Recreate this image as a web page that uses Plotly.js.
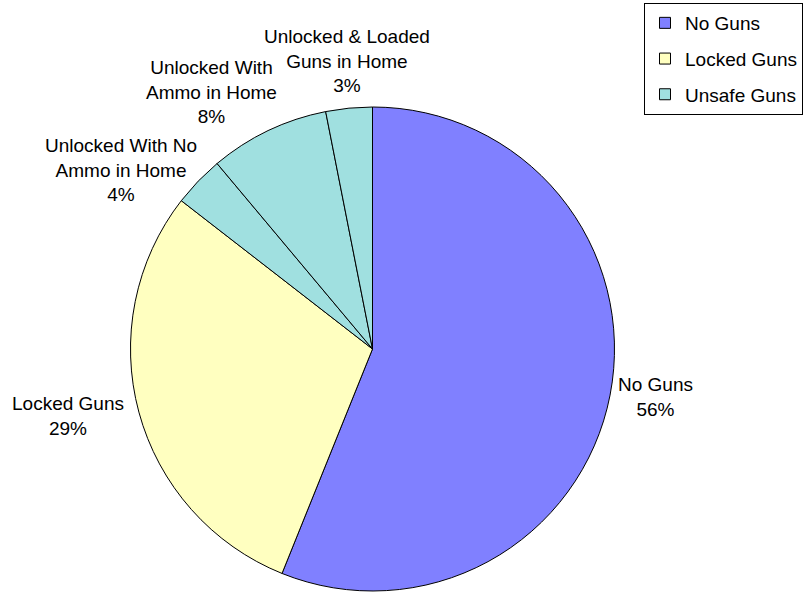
<!DOCTYPE html>
<html>
<head>
<meta charset="utf-8">
<script src="https://cdn.plot.ly/plotly-3.0.1.min.js"></script>
<style>html,body{margin:0;padding:0;background:#fff;}#chart{width:807px;height:592px;}</style>
</head>
<body>
<div id="chart"></div>
<script>
// Data
const sliceLabels = ["No Guns", "Locked Guns", "Unlocked With No Ammo in Home", "Unlocked With Ammo in Home", "Unlocked & Loaded Guns in Home"];
const sliceValues = [56.1, 29.4, 3.4, 8.0, 3.1];
const sliceLabelLines = ["No Guns", "Locked Guns", "Unlocked With No<br>Ammo in Home", "Unlocked With<br>Ammo in Home", "Unlocked & Loaded<br>Guns in Home"];
const pctLabels = ["56%", "29%", "4%", "8%", "3%"];
const sliceGroup = ["No Guns", "Locked Guns", "Unsafe Guns", "Unsafe Guns", "Unsafe Guns"];
const legendNames = ["No Guns", "Locked Guns", "Unsafe Guns"];
const legendColors = ["#8080FF", "#FFFFC0", "#A0E0E0"];

const W = 807, H = 592;
const px = x => x / W;
const py = y => 1 - y / H;
const colorOf = g => legendColors[legendNames.indexOf(g)];

// label positions (pixels)
const labelPos = [[655, 397], [68, 416], [121, 170], [211, 92], [347, 61]];

const FONT = "Liberation Sans, Arial, sans-serif";

const traces = [{
  type: "pie",
  labels: sliceLabels,
  values: sliceValues,
  sort: false,
  direction: "clockwise",
  rotation: 0,
  textinfo: "none",
  hoverinfo: "label",
  showlegend: false,
  marker: { colors: sliceGroup.map(colorOf), line: { color: "#000", width: 1 } },
  domain: { x: [px(130.5), px(614.5)], y: [py(591), py(107)] }
}];

legendNames.forEach((n, i) => {
  traces.push({
    type: "scatter", mode: "markers", x: [null], y: [null], name: n,
    legendgroup: "g" + i,
    marker: { symbol: "square", size: 11, color: legendColors[i], line: { color: "#000", width: 1 } },
    hoverinfo: "skip"
  });
});

const annotations = sliceLabelLines.map((t, i) => ({
  text: t + "<br>" + pctLabels[i], xref: "paper", yref: "paper",
  x: px(labelPos[i][0]), y: py(labelPos[i][1]),
  xanchor: "center", yanchor: "middle", align: "center", showarrow: false,
  font: { family: FONT, size: 19, color: "#000" }
}));

const layout = {
  width: W, height: H,
  margin: { l: 0, r: 0, t: 0, b: 0 },
  paper_bgcolor: "#fff", plot_bgcolor: "#fff",
  xaxis: { visible: false }, yaxis: { visible: false },
  showlegend: true,
  legend: {
    x: px(644), y: py(3), xanchor: "left", yanchor: "top",
    bgcolor: "#fff", bordercolor: "#000", borderwidth: 1,
    font: { family: FONT, size: 19, color: "#000" },
    tracegroupgap: 8, itemwidth: 30
  },
  annotations: annotations
};

Plotly.newPlot("chart", traces, layout, { displayModeBar: false, staticPlot: true });
</script>
</body>
</html>
